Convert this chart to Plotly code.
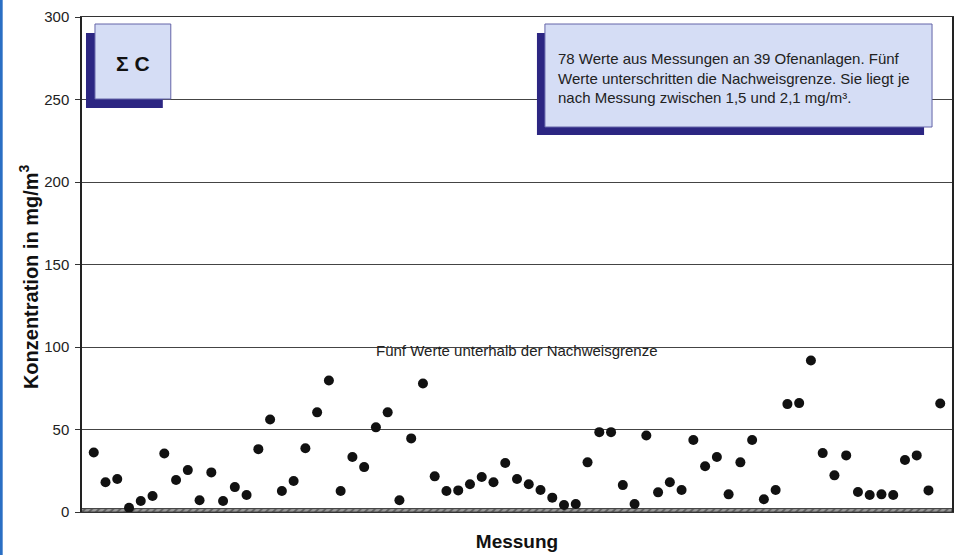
import plotly.graph_objects as go

# Messwerte Gesamtkohlenstoff (Sigma C) in mg/m3, Reihenfolge wie im Diagramm
messung = list(range(1, 74))
konzentration = [
    36.1, 18.0, 20.0, 2.6, 6.7, 9.7, 35.5, 19.4, 25.4, 7.1,
    24.0, 6.7, 15.1, 10.3, 38.1, 56.1, 12.7, 18.8, 38.6, 60.4,
    79.7, 12.7, 33.3, 27.2, 51.3, 60.4, 7.1, 44.6, 77.9, 21.6,
    12.7, 13.1, 16.8, 21.2, 18.0, 29.7, 20.0, 16.8, 13.3, 8.7,
    4.2, 4.8, 30.1, 48.4, 48.4, 16.3, 4.8, 46.4, 11.9, 18.0,
    13.3, 43.6, 27.7, 33.3, 10.7, 30.1, 43.6, 7.7, 13.3, 65.4,
    66.0, 91.8, 35.7, 22.2, 34.3, 12.1, 10.3, 10.7, 10.3, 31.5,
    34.3, 13.1, 65.8,
]
nachweisgrenze = 2.1
y_ticks = [0, 50, 100, 150, 200, 250, 300]

info_text = ("78 Werte aus Messungen an 39 Ofenanlagen. Fünf<br>"
             "Werte unterschritten die Nachweisgrenze. Sie liegt je<br>"
             "nach Messung zwischen 1,5 und 2,1 mg/m³.")

# Plotbereich in Pixeln
L, R, T, B = 82, 954, 17, 512


def fx(px):
    return (px - L) / (R - L)


def fy(py):
    return (B - py) / (B - T)


fig = go.Figure()

# Band der Nachweisgrenze
fig.add_trace(go.Scatter(
    x=[0, len(messung) + 1, len(messung) + 1, 0],
    y=[0, 0, nachweisgrenze, nachweisgrenze],
    fill='toself', mode='lines', line=dict(color='#444', width=1),
    fillcolor='#777',
    fillpattern=dict(shape='/', fgcolor='#222', bgcolor='#999', size=5, solidity=0.4),
    hoverinfo='skip', showlegend=False))

fig.add_trace(go.Scatter(
    x=messung, y=konzentration, mode='markers',
    marker=dict(color='#111', size=10),
    showlegend=False))

box_fill = '#d5ddf5'
box_line = '#6464a8'
shadow = '#2c2682'

shapes = [
    # Sigma C Kasten
    dict(type='rect', xref='paper', yref='paper', x0=fx(86), x1=fx(163), y0=fy(108), y1=fy(33),
         fillcolor=shadow, line=dict(width=0)),
    dict(type='rect', xref='paper', yref='paper', x0=fx(95), x1=fx(171), y0=fy(99), y1=fy(24),
         fillcolor=box_fill, line=dict(color=box_line, width=1)),
    # Info Kasten
    dict(type='rect', xref='paper', yref='paper', x0=fx(538), x1=fx(926), y0=fy(135), y1=fy(33),
         fillcolor=shadow, line=dict(width=0)),
    dict(type='rect', xref='paper', yref='paper', x0=fx(546), x1=fx(934), y0=fy(127), y1=fy(24),
         fillcolor=box_fill, line=dict(color=box_line, width=1)),
    # blauer Rand links
    dict(type='line', xref='paper', yref='paper', x0=fx(1), x1=fx(1), y0=fy(0), y1=fy(555),
         line=dict(color='#2a6fc4', width=3)),
]

annotations = [
    dict(text='Σ C', xref='paper', yref='paper', x=fx(133), y=fy(63),
         xanchor='center', yanchor='middle', showarrow=False,
         font=dict(size=21, color='#111', weight='bold')),
    dict(text=info_text, xref='paper', yref='paper', x=fx(557), y=fy(78),
         xanchor='left', yanchor='middle', align='left', showarrow=False,
         font=dict(size=15, color='#222')),
    dict(text='Fünf Werte unterhalb der Nachweisgrenze', xref='paper', yref='paper',
         x=fx(518), y=fy(361), showarrow=False, font=dict(size=15, color='#222')),
    dict(text='Konzentration in mg/m<sup>3</sup>', xref='paper', yref='paper',
         x=fx(28), y=fy(277), xanchor='center', yanchor='middle', textangle=-90,
         showarrow=False, font=dict(size=20, color='#111', weight='bold')),
]

fig.update_layout(
    width=960, height=555,
    margin=dict(l=L, r=960 - R, t=T, b=555 - B),
    paper_bgcolor='white', plot_bgcolor='white',
    font=dict(family='Liberation Sans, Arial, sans-serif', color='#222'),
    shapes=shapes, annotations=annotations,
    xaxis=dict(range=[0, len(messung) + 1], showticklabels=False, ticks='',
               showgrid=False, zeroline=False, showline=True, linecolor='#333',
               linewidth=1, mirror=True,
               title=dict(text='Messung', standoff=22,
                          font=dict(size=19, color='#111', weight='bold'))),
    yaxis=dict(range=[0, 300], tickvals=y_ticks, ticks='outside', ticklen=5,
               tickcolor='#333', tickfont=dict(size=15, color='#222'),
               ticklabelstandoff=3,
               showgrid=True, gridcolor='#444', gridwidth=1, zeroline=False,
               showline=True, linecolor='#222', linewidth=1.5, mirror=True),
)

fig.write_html("out.html", config={'displayModeBar': False},
               post_script="document.body.style.margin='0';")
